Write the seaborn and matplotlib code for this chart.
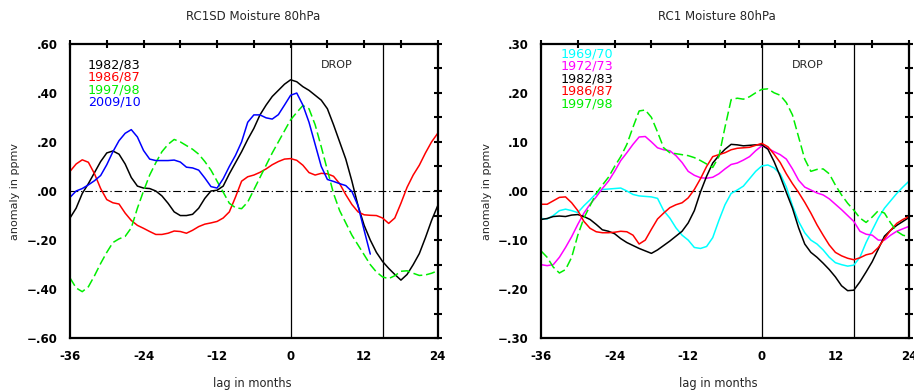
import numpy as np
import pandas as pd
import matplotlib
matplotlib.use("Agg")
import matplotlib.pyplot as plt
import seaborn as sns

# ---------------- data ----------------
months = list(range(-36, 25))
months_blue = list(range(-36, 14))

# Left panel: RC1SD Moisture 80hPa
left_1982 = [-0.11, -0.07, -0.01, 0.03, 0.075, 0.12, 0.155, 0.163, 0.15, 0.11,
             0.055, 0.02, 0.012, 0.01, 0.0, -0.02, -0.05, -0.085, -0.10, -0.10,
             -0.095, -0.07, -0.03, 0.0, 0.003, 0.02, 0.07, 0.115, 0.16, 0.21,
             0.255, 0.31, 0.35, 0.385, 0.41, 0.435, 0.453, 0.445, 0.425, 0.41,
             0.39, 0.37, 0.335, 0.27, 0.2, 0.13, 0.04, -0.06, -0.14, -0.2,
             -0.25, -0.287, -0.315, -0.34, -0.363, -0.34, -0.30, -0.255, -0.19, -0.12,
             -0.06]
left_1986 = [0.08, 0.11, 0.127, 0.117, 0.07, 0.01, -0.035, -0.048, -0.053, -0.09,
             -0.12, -0.14, -0.152, -0.165, -0.177, -0.177, -0.172, -0.163, -0.165, -0.172,
             -0.16, -0.145, -0.135, -0.13, -0.124, -0.11, -0.085, -0.025, 0.04, 0.058,
             0.065, 0.076, 0.09, 0.107, 0.12, 0.13, 0.132, 0.125, 0.105, 0.075,
             0.065, 0.072, 0.07, 0.06, 0.03, -0.015, -0.055, -0.085, -0.097, -0.099,
             -0.1, -0.11, -0.132, -0.11, -0.05, 0.015, 0.065, 0.105, 0.155, 0.2,
             0.235]
left_1997 = [-0.354, -0.395, -0.41, -0.39, -0.345, -0.295, -0.25, -0.21, -0.195, -0.185,
             -0.15, -0.07, 0.0, 0.065, 0.115, 0.16, 0.19, 0.21, 0.2, 0.185,
             0.17, 0.15, 0.12, 0.085, 0.04, -0.005, -0.05, -0.068, -0.072, -0.045,
             0.005, 0.055, 0.105, 0.155, 0.2, 0.245, 0.29, 0.32, 0.348, 0.335,
             0.27, 0.18, 0.085, -0.01, -0.08, -0.13, -0.18, -0.22, -0.26, -0.3,
             -0.33, -0.35, -0.357, -0.345, -0.327, -0.325, -0.335, -0.344, -0.342, -0.335,
             -0.325]
left_2009 = [-0.026, 0.0, 0.01, 0.025, 0.042, 0.063, 0.107, 0.16, 0.205, 0.235,
             0.25, 0.22, 0.165, 0.13, 0.124, 0.124, 0.124, 0.126, 0.118, 0.097,
             0.094, 0.085, 0.053, 0.018, 0.012, 0.05, 0.1, 0.145, 0.2, 0.28,
             0.31, 0.31, 0.298, 0.293, 0.311, 0.35, 0.39, 0.399, 0.35, 0.28,
             0.19, 0.1, 0.047, 0.039, 0.03, 0.022, -0.002, -0.06, -0.16, -0.257]

# Right panel: RC1 Moisture 80hPa
right_1969 = [-0.056, -0.057, -0.05, -0.04, -0.037, -0.04, -0.044, -0.03, -0.018, -0.005,
              0.003, 0.004, 0.005, 0.006, 0.0, -0.007, -0.01, -0.011, -0.012, -0.015,
              -0.04, -0.055, -0.075, -0.09, -0.1, -0.115, -0.117, -0.113, -0.095, -0.06,
              -0.028, -0.005, 0.002, 0.01, 0.025, 0.04, 0.051, 0.053, 0.047, 0.035,
              0.008, -0.03, -0.062, -0.085, -0.1, -0.108, -0.12, -0.135, -0.146, -0.15,
              -0.153, -0.151, -0.135, -0.105, -0.08, -0.055, -0.035, -0.02, -0.005, 0.008,
              0.02]
right_1972 = [-0.15, -0.152, -0.15, -0.135, -0.115, -0.093, -0.068, -0.045, -0.027, -0.012,
              0.005, 0.02, 0.04, 0.062, 0.078, 0.095, 0.11, 0.111, 0.1, 0.088,
              0.084, 0.082, 0.072, 0.058, 0.04, 0.032, 0.027, 0.026, 0.028, 0.035,
              0.045, 0.054, 0.057, 0.063, 0.07, 0.082, 0.092, 0.087, 0.08, 0.074,
              0.065, 0.045, 0.022, 0.008, 0.002, -0.004, -0.008, -0.016, -0.027, -0.038,
              -0.05, -0.062, -0.082, -0.088, -0.09, -0.1, -0.1, -0.09, -0.082, -0.077,
              -0.072]
right_1982 = [-0.058, -0.056, -0.052, -0.051, -0.052, -0.049, -0.048, -0.052, -0.058, -0.068,
              -0.079, -0.082, -0.087, -0.097, -0.105, -0.111, -0.117, -0.122, -0.127, -0.12,
              -0.111, -0.102, -0.092, -0.082, -0.065, -0.04, -0.002, 0.03, 0.057, 0.072,
              0.085, 0.095, 0.094, 0.092, 0.093, 0.094, 0.094, 0.085, 0.06, 0.03,
              -0.003, -0.035, -0.075, -0.108, -0.125, -0.135, -0.147, -0.16, -0.175, -0.193,
              -0.203, -0.202, -0.185, -0.165, -0.144, -0.118, -0.092, -0.08, -0.07, -0.062,
              -0.054]
right_1986 = [-0.027, -0.027, -0.02, -0.013, -0.012, -0.024, -0.04, -0.062, -0.076, -0.083,
              -0.085, -0.085, -0.084, -0.082, -0.083, -0.09, -0.108, -0.1, -0.078, -0.057,
              -0.045, -0.034, -0.028, -0.024, -0.014, 0.003, 0.025, 0.05, 0.07, 0.074,
              0.078, 0.084, 0.087, 0.088, 0.089, 0.093, 0.097, 0.09, 0.075, 0.058,
              0.035, 0.015, -0.003, -0.023, -0.045, -0.069, -0.09, -0.11, -0.125, -0.132,
              -0.137, -0.14, -0.136, -0.13, -0.127, -0.115, -0.097, -0.08, -0.066, -0.058,
              -0.052]
right_1997 = [-0.122, -0.135, -0.155, -0.167, -0.16, -0.135, -0.09, -0.055, -0.03, -0.005,
              0.012, 0.028, 0.05, 0.07, 0.095, 0.13, 0.163, 0.165, 0.15, 0.12,
              0.088, 0.078, 0.076, 0.074, 0.072, 0.068, 0.062, 0.055, 0.048, 0.07,
              0.13, 0.186, 0.189, 0.187, 0.192, 0.2, 0.207, 0.208, 0.2, 0.195,
              0.18, 0.155, 0.11, 0.065, 0.04, 0.044, 0.045, 0.035, 0.012, -0.008,
              -0.025, -0.039, -0.055, -0.064, -0.053, -0.04, -0.045, -0.065, -0.082, -0.09,
              -0.093]

left_labels = ["1982/83", "1986/87", "1997/98", "2009/10"]
right_labels = ["1969/70", "1972/73", "1982/83", "1986/87", "1997/98"]
x_ticks = list(range(-36, 25, 6))
x_ticklabels = ["-36", "", "-24", "", "-12", "", "0", "", "12", "", "24"]
left_yticks = [round(v, 2) for v in np.arange(-0.6, 0.601, 0.1)]
left_yticklabels = ["\u2212.60", "", "\u2212.40", "", "\u2212.20", "", ".00", "", ".20", "", ".40", "", ".60"]
right_yticks = [round(v, 3) for v in np.arange(-0.3, 0.301, 0.05)]
right_yticklabels = ["\u2212.30", "", "\u2212.20", "", "\u2212.10", "", ".00", "", ".10", "", ".20", "", ".30"]

# ---------------- styling ----------------
sns.set_style("white")
plt.rcParams["font.family"] = ["DejaVu Sans"]

BLACK = "#000000"
RED = "#ff0000"
GREEN = "#00ee00"
BLUE = "#0000ff"
CYAN = "#00ffff"
MAGENTA = "#ff00ff"
LW = 1.1
DASH = (0, (6, 2.5))

fig = plt.figure(figsize=(9.14, 3.91), dpi=100)
W, H = 914.0, 391.0
ax1 = fig.add_axes([70 / W, 1 - 338.3 / H, 367.7 / W, 294.6 / H])
ax2 = fig.add_axes([541 / W, 1 - 338.3 / H, 368 / W, 294.6 / H])


def style_axis(ax, yticks, yticklabels, ylim):
    ax.set_xlim(-36, 24)
    ax.set_ylim(*ylim)
    ax.set_xticks(x_ticks)
    ax.set_xticklabels(x_ticklabels)
    ax.set_yticks(yticks)
    ax.set_yticklabels(yticklabels)
    for s in ax.spines.values():
        s.set_visible(True)
        s.set_linewidth(1.6)
        s.set_color("black")
    ax.tick_params(axis="both", which="major", direction="inout", length=5.5, width=1.5,
                   top=True, right=True, labeltop=False, labelright=False,
                   labelsize=8.5, colors="black")
    ax.tick_params(axis="x", pad=6)
    ax.tick_params(axis="y", pad=6)
    for lab in ax.get_xticklabels() + ax.get_yticklabels():
        lab.set_fontweight("bold")
    ax.axhline(0, color="black", lw=0.8, linestyle=(0, (7, 2.5, 1.2, 2.5)), zorder=1)
    ax.axvline(0, color="black", lw=0.9, zorder=1)
    ax.axvline(15, color="black", lw=0.9, zorder=1)
    ax.set_xlabel("")
    ax.set_ylabel("")
    ax.grid(False)


# Left panel
sns.lineplot(x=months, y=left_1982, color=BLACK, lw=LW, ax=ax1)
sns.lineplot(x=months, y=left_1986, color=RED, lw=LW, ax=ax1)
sns.lineplot(x=months, y=left_1997, color=GREEN, lw=LW, linestyle=DASH, ax=ax1)
sns.lineplot(x=months_blue, y=left_2009, color=BLUE, lw=LW, ax=ax1)
style_axis(ax1, left_yticks, left_yticklabels, (-0.6, 0.6))

# Right panel
sns.lineplot(x=months, y=right_1969, color=CYAN, lw=LW, ax=ax2)
sns.lineplot(x=months, y=right_1972, color=MAGENTA, lw=LW, ax=ax2)
sns.lineplot(x=months, y=right_1982, color=BLACK, lw=LW, ax=ax2)
sns.lineplot(x=months, y=right_1986, color=RED, lw=LW, ax=ax2)
sns.lineplot(x=months, y=right_1997, color=GREEN, lw=LW, linestyle=DASH, ax=ax2)
style_axis(ax2, right_yticks, right_yticklabels, (-0.3, 0.3))

# Legends as coloured text
for i, (lab, col) in enumerate(zip(left_labels, [BLACK, RED, GREEN, BLUE])):
    fig.text(88 / W, 1 - (65 + 12.3 * i) / H, lab, color=col, fontsize=9.2,
             ha="left", va="center")
for i, (lab, col) in enumerate(zip(right_labels, [CYAN, MAGENTA, BLACK, RED, GREEN])):
    fig.text(561 / W, 1 - (54 + 12.4 * i) / H, lab, color=col, fontsize=9.2,
             ha="left", va="center")

fig.text(337 / W, 1 - 65 / H, "DROP", fontsize=8, ha="center", va="center")
fig.text(808 / W, 1 - 65 / H, "DROP", fontsize=8, ha="center", va="center")

fig.text(253 / W, 1 - 16 / H, "RC1SD Moisture 80hPa", fontsize=8.5, ha="center", va="center")
fig.text(717 / W, 1 - 16 / H, "RC1 Moisture 80hPa", fontsize=8.5, ha="center", va="center")

for xc in (252, 718):
    fig.text(xc / W, 1 - 384 / H, "lag in months", fontsize=8.3, ha="center", va="center")
for xc in (15, 487):
    fig.text(xc / W, 1 - 191 / H, "anomaly in ppmv", fontsize=8, ha="center",
             va="center", rotation=90)

fig.savefig("out.png", dpi=100)
